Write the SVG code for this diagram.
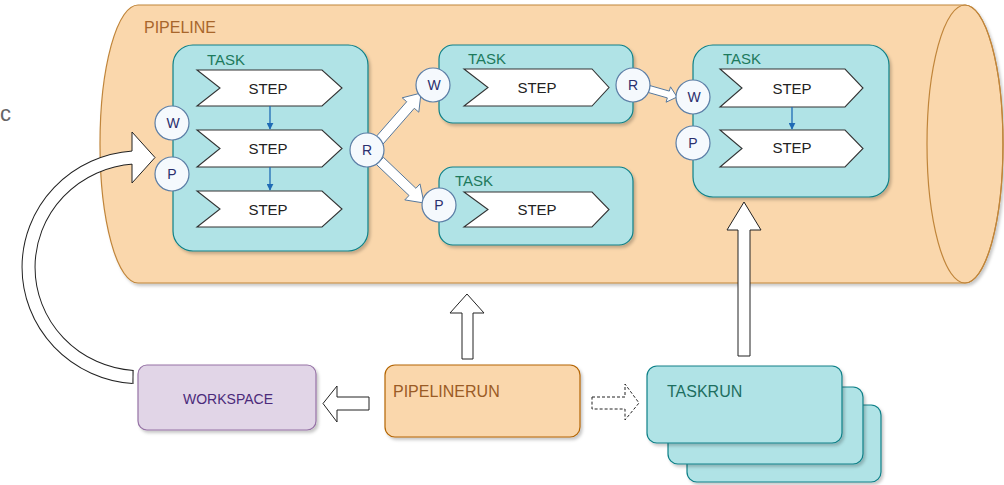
<svg xmlns="http://www.w3.org/2000/svg" width="1004" height="485" viewBox="0 0 1004 485">
  <style>
    .lbl { font-family: "Liberation Sans", Arial, sans-serif; }
    .task { fill: #b0e3e6; stroke: #0e8088; stroke-width: 1.2; }
    .tasklbl { font-size: 15px; fill: #1d7a5c; }
    .step { fill: #ffffff; stroke: #333333; stroke-width: 1.1; }
    .steptxt { font-size: 15px; fill: #222222; text-anchor: middle; }
    .port { fill: #f5f9fd; stroke: #5c7ea6; stroke-width: 1.2; }
    .porttxt { font-size: 14px; fill: #2b2f6e; text-anchor: middle; }
    .flow { stroke: #1f6bb5; stroke-width: 1.3; fill: none; }
    .blk { fill: #ffffff; stroke: #222222; stroke-width: 1; }
    .blkb { fill: #ffffff; stroke: #56789c; stroke-width: 1; }
  </style>
  <defs>
    <filter id="sh" x="-10%" y="-10%" width="120%" height="130%">
      <feDropShadow dx="2" dy="2.5" stdDeviation="1.5" flood-color="#000" flood-opacity="0.22"/>
    </filter>
    <marker id="ah" viewBox="0 0 10 10" refX="9" refY="5" markerWidth="7" markerHeight="7" markerUnits="userSpaceOnUse" orient="auto">
      <path d="M0,0 L10,5 L0,10 Z" fill="#1f6bb5"/>
    </marker>
  </defs>

  <text class="lbl" x="0" y="121" font-size="22" fill="#666666">c</text>

  <g id="pipeline">
    <path d="M138,5 H965 A38,139 0 0 1 965,283 H138 A38,139 0 0 1 138,5 Z" fill="#fad7ac" stroke="#c0853a" stroke-width="1.2" filter="url(#sh)"/>
    <ellipse cx="965" cy="144" rx="38" ry="139" fill="none" stroke="#c0853a" stroke-width="1.2"/>
    <text class="lbl" x="144" y="33" font-size="16" fill="#a8662b">PIPELINE</text>
  </g>

  <g id="connectors">
    <!-- curved workspace arrow -->
    <path d="M133,377 A112,110 0 0 1 133,157.5" fill="none" stroke="#222222" stroke-width="14"/>
    <path d="M133,377 A112,110 0 0 1 133,157.5" fill="none" stroke="#ffffff" stroke-width="12"/>
    <line x1="133" y1="370" x2="133" y2="384" stroke="#222222" stroke-width="1"/>
    <path d="M132,151 L132,132 L155,157.5 L132,183 L132,164" class="blk"/>
    <!-- R1 -> W2 -->
    <polygon class="blkb" points="375.2,137.7 406.7,101.7 402.2,97.8 421,93 418.8,112.2 414.3,108.3 382.8,144.3"/>
    <!-- R1 -> P3 -->
    <polygon class="blkb" points="383.5,157.4 415.9,188.3 420,183.9 424,203 404.8,199.9 409,195.5 376.5,164.6"/>
    <!-- R2 -> W4 -->
    <polygon class="blkb" points="650,85.6 669.3,91.1 670.5,86.8 677,97 666.1,102.2 667.3,97.9 648,92.4"/>
    <!-- pipelinerun -> pipeline -->
    <polygon class="blk" points="462,359 462,313 450,313 467,294 484,313 473,313 473,359"/>
    <!-- pipelinerun -> workspace -->
    <polygon class="blk" points="369,397 337,397 337,386 323,403.5 337,422 337,410 369,410"/>
    <!-- pipelinerun -> taskrun (dashed) -->
    <polygon class="blk" stroke-dasharray="3,2" points="592,397 625,397 625,384 639,403 625,420 625,409 592,409"/>
    <!-- taskrun -> task -->
    <polygon class="blk" points="738,356 738,230 727,230 744,202 761,230 750,230 750,356"/>
  </g>

  <g id="task1">
    <rect class="task" x="173" y="45" width="195" height="206" rx="20" filter="url(#sh)"/>
    <text class="lbl tasklbl" x="207" y="65">TASK</text>
    <polygon class="step" points="197,70 322,70 342,88 322,106 197,106 220,88"/>
    <text class="lbl steptxt" x="268" y="93.5">STEP</text>
    <polygon class="step" points="197,130 322,130 342,148.5 322,167 197,167 220,148.5"/>
    <text class="lbl steptxt" x="268" y="154">STEP</text>
    <polygon class="step" points="197,191 322,191 342,209 322,227 197,227 220,209"/>
    <text class="lbl steptxt" x="268" y="214.5">STEP</text>
    <line class="flow" x1="270" y1="106" x2="270" y2="129" marker-end="url(#ah)"/>
    <line class="flow" x1="270" y1="167" x2="270" y2="190" marker-end="url(#ah)"/>
    <circle class="port" cx="172" cy="123" r="17"/>
    <text class="lbl porttxt" x="173" y="128">W</text>
    <circle class="port" cx="172" cy="174" r="17"/>
    <text class="lbl porttxt" x="172" y="179">P</text>
    <circle class="port" cx="367" cy="150" r="17"/>
    <text class="lbl porttxt" x="367" y="155">R</text>
  </g>

  <g id="task2">
    <rect class="task" x="439" y="45" width="194" height="78" rx="14" filter="url(#sh)"/>
    <text class="lbl tasklbl" x="468" y="64">TASK</text>
    <polygon class="step" points="464,69 592,69 609,87.5 592,106 464,106 488,87.5"/>
    <text class="lbl steptxt" x="537" y="93">STEP</text>
    <circle class="port" cx="433" cy="85" r="17"/>
    <text class="lbl porttxt" x="434" y="90">W</text>
    <circle class="port" cx="633" cy="85" r="17"/>
    <text class="lbl porttxt" x="633" y="90">R</text>
  </g>

  <g id="task3">
    <rect class="task" x="439" y="167" width="194" height="78" rx="14" filter="url(#sh)"/>
    <text class="lbl tasklbl" x="455" y="186">TASK</text>
    <polygon class="step" points="464,192 592,192 609,209.5 592,227 464,227 488,209.5"/>
    <text class="lbl steptxt" x="537" y="215">STEP</text>
    <circle class="port" cx="439" cy="205" r="17"/>
    <text class="lbl porttxt" x="439" y="210">P</text>
  </g>

  <g id="task4">
    <rect class="task" x="693" y="45" width="196" height="152" rx="20" filter="url(#sh)"/>
    <text class="lbl tasklbl" x="723" y="64">TASK</text>
    <polygon class="step" points="720,69 845,69 863,88 845,107 720,107 742,88"/>
    <text class="lbl steptxt" x="792" y="94">STEP</text>
    <polygon class="step" points="720,130 845,130 863,148.5 845,167 720,167 742,148.5"/>
    <text class="lbl steptxt" x="792" y="153">STEP</text>
    <line class="flow" x1="792" y1="107" x2="792" y2="129" marker-end="url(#ah)"/>
    <circle class="port" cx="693" cy="97" r="17"/>
    <text class="lbl porttxt" x="694" y="102">W</text>
    <circle class="port" cx="693" cy="143" r="17"/>
    <text class="lbl porttxt" x="693" y="148">P</text>
  </g>

  <g id="workspace">
    <rect x="138" y="365" width="178" height="65" rx="9" fill="#e1d5e7" stroke="#9673a6" stroke-width="1.2" filter="url(#sh)"/>
    <text class="lbl" x="228" y="404" font-size="14" fill="#4b2a7a" text-anchor="middle">WORKSPACE</text>
  </g>

  <g id="pipelinerun">
    <rect x="385" y="365" width="195" height="72" rx="10" fill="#fad7ac" stroke="#b46504" stroke-width="1.2" filter="url(#sh)"/>
    <text class="lbl" x="393" y="397" font-size="16" fill="#9a5b25">PIPELINERUN</text>
  </g>

  <g id="taskrun">
    <rect x="687" y="405" width="194" height="77" rx="10" fill="#b0e3e6" stroke="#0e8088" stroke-width="1.2" filter="url(#sh)"/>
    <rect x="668" y="387" width="195" height="77" rx="10" fill="#b0e3e6" stroke="#0e8088" stroke-width="1.2" filter="url(#sh)"/>
    <rect x="647" y="366" width="195" height="77" rx="10" fill="#b0e3e6" stroke="#0e8088" stroke-width="1.2" filter="url(#sh)"/>
    <text class="lbl" x="667" y="397" font-size="16" fill="#1d6e60">TASKRUN</text>
  </g>
</svg>
